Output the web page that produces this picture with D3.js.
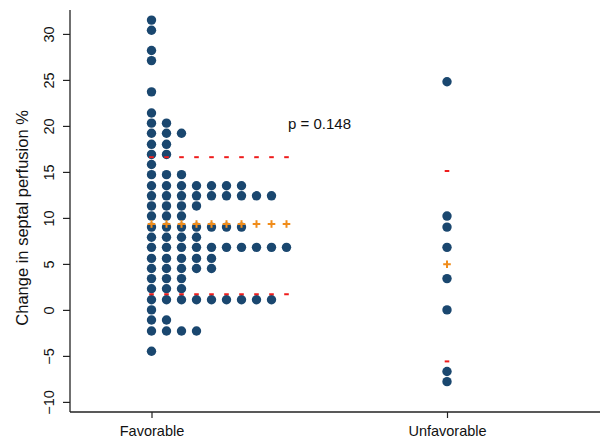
<!DOCTYPE html>
<html>
<head>
<meta charset="utf-8">
<script src="https://cdn.jsdelivr.net/npm/d3@7/dist/d3.min.js"></script>
<style>
  html, body { margin: 0; padding: 0; background: #fff; }
  svg { display: block; font-family: "Liberation Sans", Arial, sans-serif; }
</style>
</head>
<body>
<svg id="chart" width="600" height="440"></svg>
<script>
// Outcome groups shown along the x axis
const groups = ["Favorable", "Unfavorable"];

// Change in septal perfusion (%) per patient, binned values
const favorable = [
  31.5, 30.4, 28.2, 27.1, 23.7, 21.4,
  20.3, 20.3,
  19.2, 19.2, 19.2,
  18.0, 18.0,
  16.9, 16.9,
  15.8,
  14.7, 14.7, 14.7,
  13.5, 13.5, 13.5, 13.5, 13.5, 13.5, 13.5,
  12.4, 12.4, 12.4, 12.4, 12.4, 12.4, 12.4, 12.4, 12.4,
  11.3, 11.3, 11.3, 11.3,
  10.2, 10.2, 10.2,
  9.0, 9.0, 9.0, 9.0, 9.0, 9.0, 9.0,
  7.9, 7.9, 7.9, 7.9,
  6.8, 6.8, 6.8, 6.8, 6.8, 6.8, 6.8, 6.8, 6.8, 6.8,
  5.6, 5.6, 5.6, 5.6, 5.6,
  4.5, 4.5, 4.5, 4.5, 4.5,
  3.4, 3.4, 3.4,
  2.3, 2.3, 2.3,
  1.1, 1.1, 1.1, 1.1, 1.1, 1.1, 1.1, 1.1, 1.1,
  0.0,
  -1.1, -1.1,
  -2.3, -2.3, -2.3, -2.3,
  -4.5
];
const unfavorable = [24.8, 10.2, 9.0, 6.8, 3.4, 0.0, -6.7, -7.8];

// Spread markers (upper / lower) for each group
const upperBand = [16.6, 15.1];
const lowerBand = [1.7, -5.6];

const yTicks = [-10, -5, 0, 5, 10, 15, 20, 25, 30];
const pLabel = "p = 0.148";

const seriesByGroup = [favorable, unfavorable];

const svg = d3.select("#chart");
const axisColor = "#222";
const dotColor = "#1a476f";
const meanColor = "#f08c1a";
const bandColor = "#ee1c1c";

const plotLeft = 70, plotRight = 600, plotTop = 10, plotBottom = 412;
const colStep = 15;     // horizontal spacing between stacked dots
const dotR = 4.7;

const y = d3.scaleLinear().domain([-11.1, 32.6]).range([plotBottom, plotTop]);
const x = d3.scalePoint().domain(groups).range([151.5, 447]);

// Y axis
const yAxis = svg.append("g")
  .attr("transform", `translate(${plotLeft},0)`)
  .call(d3.axisLeft(y).tickValues(yTicks).tickSize(7).tickSizeOuter(0));
yAxis.select(".domain").remove();
yAxis.selectAll(".tick line").attr("stroke", axisColor).attr("stroke-width", 1.2);
// vertical tick labels, each turned about its own tick
yAxis.selectAll(".tick text")
  .attr("x", null).attr("y", null).attr("dy", null)
  .attr("font-size", 14.5)
  .attr("fill", "#111")
  .attr("transform", "translate(-16,0) rotate(-90)")
  .attr("text-anchor", "middle");

svg.append("line")
  .attr("x1", plotLeft).attr("x2", plotLeft)
  .attr("y1", plotTop).attr("y2", plotBottom)
  .attr("stroke", axisColor).attr("stroke-width", 1.3);

// X axis
const xAxis = svg.append("g")
  .attr("transform", `translate(0,${plotBottom})`)
  .call(d3.axisBottom(x).tickSize(6).tickPadding(8).tickSizeOuter(0));
xAxis.select(".domain").remove();
xAxis.selectAll(".tick line").attr("stroke", axisColor).attr("stroke-width", 1.2);
xAxis.selectAll(".tick text").attr("font-size", 14.5).attr("fill", "#111");

svg.append("line")
  .attr("x1", plotLeft).attr("x2", plotRight)
  .attr("y1", plotBottom).attr("y2", plotBottom)
  .attr("stroke", axisColor).attr("stroke-width", 1.3);

// Y axis title
svg.append("text")
  .attr("transform", `translate(28,${y(10)}) rotate(-90)`)
  .attr("text-anchor", "middle")
  .attr("font-size", 16.5)
  .attr("fill", "#111")
  .text("Change in septal perfusion %");

// Dots, stacked left to right within each value bin
const dots = [];
const widths = [];
seriesByGroup.forEach((vals, gi) => {
  const bins = d3.group(vals, v => v);
  let maxCount = 0;
  bins.forEach((arr, v) => {
    maxCount = Math.max(maxCount, arr.length);
    arr.forEach((_, j) => dots.push({ g: groups[gi], v, j }));
  });
  widths.push(maxCount);
});

svg.append("g").selectAll("circle")
  .data(dots)
  .join("circle")
  .attr("cx", d => x(d.g) + d.j * colStep)
  .attr("cy", d => y(d.v))
  .attr("r", dotR)
  .attr("fill", dotColor);

// Mean (+) and spread (-) markers across each group's width
const markers = [];
groups.forEach((g, gi) => {
  const mean = d3.mean(seriesByGroup[gi]);
  for (let j = 0; j < widths[gi]; j++) {
    markers.push({ g, j, mean, hi: upperBand[gi], lo: lowerBand[gi] });
  }
});

const mg = svg.append("g");
// red dashes
mg.selectAll("line.hi")
  .data(markers).join("line").attr("class", "hi")
  .attr("x1", d => x(d.g) + d.j * colStep - 2.3)
  .attr("x2", d => x(d.g) + d.j * colStep + 2.3)
  .attr("y1", d => y(d.hi)).attr("y2", d => y(d.hi))
  .attr("stroke", bandColor).attr("stroke-width", 2);
mg.selectAll("line.lo")
  .data(markers).join("line").attr("class", "lo")
  .attr("x1", d => x(d.g) + d.j * colStep - 2.3)
  .attr("x2", d => x(d.g) + d.j * colStep + 2.3)
  .attr("y1", d => y(d.lo)).attr("y2", d => y(d.lo))
  .attr("stroke", bandColor).attr("stroke-width", 2);
// orange pluses
const plus = mg.selectAll("g.plus")
  .data(markers).join("g").attr("class", "plus")
  .attr("transform", d => `translate(${x(d.g) + d.j * colStep},${y(d.mean)})`);
plus.append("line").attr("x1", -3.8).attr("x2", 3.8).attr("y1", 0).attr("y2", 0)
  .attr("stroke", meanColor).attr("stroke-width", 2);
plus.append("line").attr("x1", 0).attr("x2", 0).attr("y1", -3.8).attr("y2", 3.8)
  .attr("stroke", meanColor).attr("stroke-width", 2);

// p-value annotation
svg.append("text")
  .attr("x", 288).attr("y", 129)
  .attr("font-size", 15)
  .attr("fill", "#111")
  .text(pLabel);
</script>
</body>
</html>
